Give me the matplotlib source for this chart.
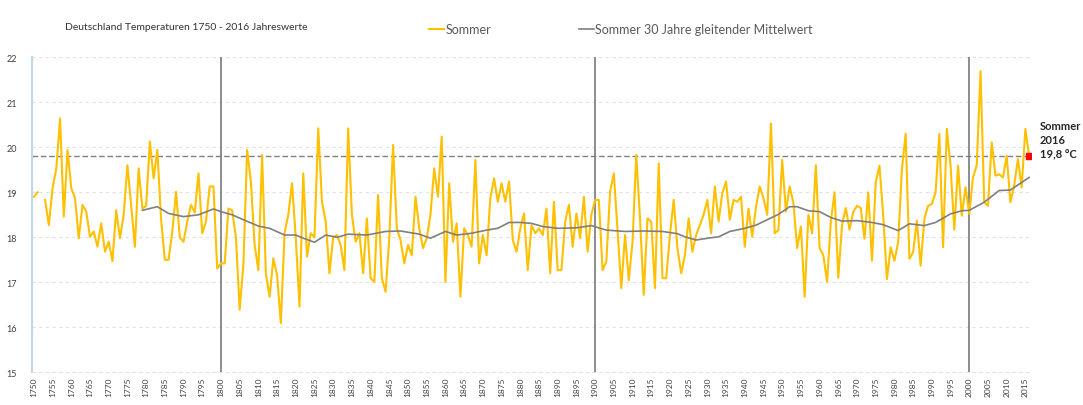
import matplotlib.pyplot as plt
import numpy as np

years = np.arange(1750, 2017)

# Sommer-Mittel je Jahr, 1752 fehlt
sommer = [
    18.9, 19.0, np.nan, 18.83, 18.27, 19.09, 19.53, 20.64, 18.46, 19.94,
    19.09, 18.87, 17.98, 18.72, 18.57, 18.01, 18.13, 17.79, 18.31, 17.68,
    17.9, 17.47, 18.6, 17.98, 18.5, 19.6, 18.72, 17.79, 19.53, 18.64,
    18.7, 20.13, 19.31, 19.94, 18.4, 17.5, 17.5, 18.13, 19.01, 18.0,
    17.9, 18.35, 18.72, 18.55, 19.42, 18.09, 18.35, 19.13, 19.13, 17.31,
    17.42, 17.42, 18.64, 18.6, 18.0, 16.39, 17.39, 19.94, 19.24, 17.83,
    17.27, 19.83, 17.2, 16.68, 17.53, 17.16, 16.09, 18.09, 18.5, 19.2,
    17.98, 16.46, 19.42, 17.57, 18.09, 18.0, 20.42, 18.79, 18.35, 17.2,
    18.0, 18.05, 17.83, 17.27, 20.42, 18.5, 17.9, 18.09, 17.2, 18.42,
    17.09, 17.01, 18.94, 17.09, 16.79, 18.0, 20.05, 18.2, 17.94, 17.42,
    17.83, 17.6, 18.9, 18.2, 17.76, 17.98, 18.5, 19.53, 18.9, 20.24,
    17.01, 19.2, 17.9, 18.31, 16.68, 18.2, 18.05, 17.79, 19.72, 17.42,
    18.05, 17.6, 18.87, 19.31, 18.79, 19.2, 18.79, 19.24, 17.94, 17.68,
    18.2, 18.53, 17.27, 18.27, 18.09, 18.2, 18.05, 18.64, 17.2, 18.79,
    17.27, 17.27, 18.35, 18.72, 17.79, 18.53, 17.98, 18.9, 17.68, 18.5,
    18.83, 18.83, 17.27, 17.46, 19.01, 19.42, 18.13, 16.87, 18.05, 17.05,
    17.9, 19.83, 18.42, 16.72, 18.42, 18.35, 16.87, 19.64, 17.09, 17.09,
    18.05, 18.83, 17.76, 17.2, 17.6, 18.42, 17.68, 18.05, 18.27, 18.5,
    18.83, 18.09, 19.13, 18.35, 18.98, 19.24, 18.39, 18.83, 18.79, 18.9,
    17.79, 18.64, 18.01, 18.68, 19.13, 18.87, 18.5, 20.53, 18.09, 18.16,
    19.72, 18.57, 19.13, 18.76, 17.76, 18.24, 16.68, 18.5, 18.09, 19.6,
    17.76, 17.6, 17.01, 18.35, 19.0, 17.1, 18.28, 18.65, 18.17, 18.57,
    18.7, 18.65, 17.97, 19.0, 17.48, 19.22, 19.59, 18.48, 17.07, 17.78,
    17.48, 17.89, 19.52, 20.3, 17.52, 17.67, 18.37, 17.37, 18.41, 18.7,
    18.74, 19.0, 20.3, 17.78, 20.41, 19.59, 18.17, 19.59, 18.48, 19.11,
    18.52, 19.33, 19.6, 21.69, 18.78, 18.7, 20.11, 19.37, 19.4, 19.33,
    19.81, 18.78, 19.15, 19.74, 19.11, 20.41, 19.81,
]

# 30 Jahre gleitender Mittelwert
ma_years = [1779, 1783, 1786, 1790, 1794, 1798, 1800, 1803, 1806, 1810,
            1813, 1817, 1820, 1822, 1825, 1828, 1831, 1834, 1839, 1844,
            1848, 1853, 1856, 1860, 1863, 1867, 1871, 1874, 1877, 1880,
            1883, 1886, 1890, 1895, 1899, 1903, 1908, 1913, 1918, 1922,
            1924, 1927, 1931, 1933, 1936, 1940, 1943, 1946, 1949, 1952,
            1954, 1957, 1960, 1963, 1966, 1970, 1974, 1977, 1981, 1984,
            1988, 1991, 1995, 1998, 2000, 2004, 2008, 2011, 2014, 2016]
ma_sommer = [18.60, 18.68, 18.53, 18.46, 18.50, 18.63, 18.57, 18.50, 18.39, 18.25,
             18.20, 18.05, 18.05, 17.98, 17.89, 18.05, 18.00, 18.07, 18.05, 18.13,
             18.14, 18.07, 17.98, 18.13, 18.05, 18.09, 18.16, 18.20, 18.33, 18.33,
             18.31, 18.24, 18.20, 18.21, 18.26, 18.16, 18.13, 18.14, 18.13, 18.08,
             18.01, 17.94, 17.99, 18.01, 18.13, 18.20, 18.27, 18.39, 18.51, 18.68,
             18.68, 18.59, 18.57, 18.44, 18.36, 18.37, 18.33, 18.28, 18.15, 18.30,
             18.26, 18.33, 18.52, 18.59, 18.60, 18.78, 19.04, 19.05, 19.22, 19.33]

century_lines = [1800, 1900, 2000]
ref_value = 19.8
last_year = 2016

plt.rcParams['font.family'] = ['Lato', 'DejaVu Sans']

fig = plt.figure(figsize=(10.83, 4.06), dpi=100)
ax = fig.add_axes([32 / 1083, 1 - 373.3 / 406, 999 / 1083, 315 / 406])

for cy in century_lines:
    ax.axvline(cy, color='#8c8c8c', lw=1.4, zorder=1)
ax.axhline(ref_value, color='#7f7f7f', lw=1.0, ls=(0, (4, 2)), zorder=2)

l1, = ax.plot(years, sommer, color='#FFC000', lw=1.5, zorder=3, label='Sommer')
l2, = ax.plot(ma_years, ma_sommer, color='#7f7f7f', lw=1.2, zorder=4,
              label='Sommer 30 Jahre gleitender Mittelwert')
ax.plot(last_year, ref_value, 's', color='#ff0000', ms=4, zorder=5)

ax.set_xlim(1749.5, 2016.5)
ax.set_ylim(15, 22)
ax.set_yticks(range(15, 23))
ax.set_xticks(np.arange(1750, 2016, 5))
ax.tick_params(axis='x', labelrotation=90, labelsize=6, length=0, pad=3, colors='#404040')
ax.tick_params(axis='y', labelsize=6.5, length=0, pad=11, colors='#404040')

ax.grid(axis='y', color='#dde3ec', ls=(0, (3, 3)), lw=0.8)
ax.set_axisbelow(True)
for s in ['top', 'right']:
    ax.spines[s].set_visible(False)
ax.spines['left'].set_color('#bdd7ee')
ax.spines['left'].set_linewidth(1.5)
ax.spines['bottom'].set_color('#dde3ec')
ax.spines['bottom'].set_linestyle((0, (3, 3)))

fig.text(65 / 1083, 1 - 27 / 406, 'Deutschland Temperaturen 1750 - 2016 Jahreswerte',
         fontsize=7.5, color='#333333', va='center', ha='left')

fig.legend(handles=[l1, l2], loc='center left', bbox_to_anchor=(418 / 1083, 1 - 30 / 406),
           ncol=2, frameon=False, handlelength=1.2, handletextpad=0.1,
           columnspacing=7, fontsize=9, labelcolor='#595959')

fig.text(1040 / 1083, 1 - 141 / 406, 'Sommer\n2016\n19,8 °C', fontsize=8,
         fontweight='bold', color='#262626', va='center', ha='left', linespacing=1.35)

fig.savefig('out.png', dpi=100)
